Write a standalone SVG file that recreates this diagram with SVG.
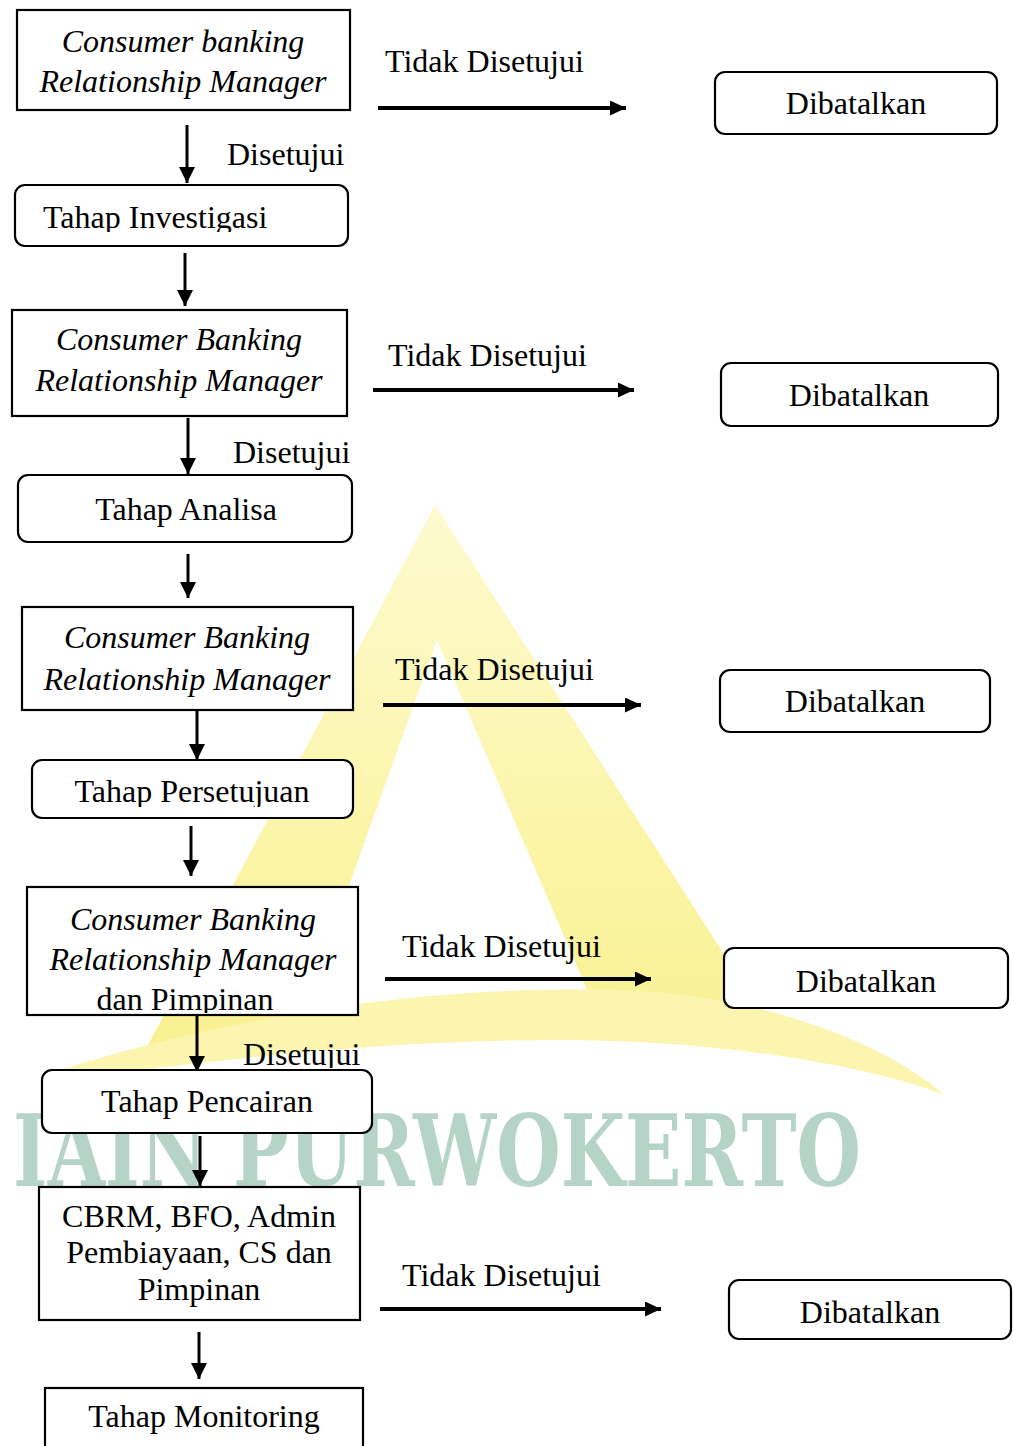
<svg xmlns="http://www.w3.org/2000/svg" width="1013" height="1446" viewBox="0 0 1013 1446">
<defs>
<style>
.box{fill:#fff;stroke:#000;stroke-width:2.2}
.t{font-family:"Liberation Serif","Times New Roman",serif;font-size:32px;fill:#000}
.c{text-anchor:middle}
.i{font-style:italic}
.v{stroke:#000;stroke-width:3;fill:none;marker-end:url(#ah)}
.h{stroke:#000;stroke-width:4;fill:none;marker-end:url(#ah2)}
</style>
<marker id="ah" markerUnits="userSpaceOnUse" markerWidth="16" markerHeight="16" refX="16" refY="8" orient="auto">
<path d="M0,0 L16,8 L0,16 Z" fill="#000"/>
</marker>
<marker id="ah2" markerUnits="userSpaceOnUse" markerWidth="16" markerHeight="16" refX="16" refY="7.5" orient="auto">
<path d="M0,0 L16,7.5 L0,15 Z" fill="#000"/>
</marker>
<clipPath id="cl1"><rect x="0" y="180" width="400" height="52"/></clipPath>
<clipPath id="cl2"><rect x="0" y="760" width="400" height="47"/></clipPath>
<clipPath id="cl3"><rect x="0" y="880" width="400" height="133"/></clipPath>
<clipPath id="cl4"><rect x="200" y="1030" width="200" height="38"/></clipPath>
<linearGradient id="yg" x1="0" y1="0" x2="0" y2="1">
<stop offset="0" stop-color="#fdfad0"/>
<stop offset="0.6" stop-color="#fbf5a8"/>
<stop offset="1" stop-color="#f9f090"/>
</linearGradient>
</defs>
<rect width="1013" height="1446" fill="#fff"/>
<g id="watermark">
<path d="M435,505 L140,1060 L290,1050 L437,640 L600,1020 L760,1010 Z" fill="url(#yg)"/>
<path d="M60,1070 C250,1010 450,985 620,990 C760,995 880,1040 945,1095 C850,1060 700,1040 560,1040 C380,1040 220,1060 60,1080 Z" fill="#fbf5b0"/>
<text x="13" y="1186" font-family="DejaVu Serif Condensed, DejaVu Serif, serif" font-weight="bold" font-size="100" textLength="848" lengthAdjust="spacingAndGlyphs" fill="#b6d3c8">IAIN PURWOKERTO</text>
</g>
<g id="connectors">
<line class="v" x1="187" y1="125" x2="187" y2="183"/>
<line class="v" x1="185" y1="253" x2="185" y2="306"/>
<line class="v" x1="188" y1="418" x2="188" y2="474"/>
<line class="v" x1="188" y1="554" x2="188" y2="598"/>
<line class="v" x1="197" y1="710" x2="197" y2="760"/>
<line class="v" x1="191" y1="826" x2="191" y2="876"/>
<line class="v" x1="197" y1="1015" x2="197" y2="1072"/>
<line class="v" x1="200" y1="1136" x2="200" y2="1186"/>
<line class="v" x1="199" y1="1332" x2="199" y2="1379"/>
<line class="h" x1="378" y1="108" x2="626" y2="108"/>
<line class="h" x1="373" y1="390" x2="634" y2="390"/>
<line class="h" x1="383" y1="705" x2="641" y2="705"/>
<line class="h" x1="385" y1="979" x2="651" y2="979"/>
<line class="h" x1="380" y1="1309" x2="661" y2="1309"/>
<text class="t" x="227" y="165">Disetujui</text>
<text class="t" x="233" y="463">Disetujui</text>
<g clip-path="url(#cl4)"><text class="t" x="243" y="1065">Disetujui</text></g>
<text class="t" x="385" y="72">Tidak Disetujui</text>
<text class="t" x="388" y="366">Tidak Disetujui</text>
<text class="t" x="395" y="680">Tidak Disetujui</text>
<text class="t" x="402" y="957">Tidak Disetujui</text>
<text class="t" x="402" y="1286">Tidak Disetujui</text>
</g>
<g id="n1"><rect class="box" x="17" y="10" width="333" height="100"/>
<text class="t c i" x="183" y="52">Consumer banking</text>
<text class="t c i" x="183" y="92">Relationship Manager</text></g>
<g id="n2"><rect class="box" x="15" y="185" width="333" height="61" rx="10"/>
<g clip-path="url(#cl1)"><text class="t" x="43" y="228">Tahap Investigasi</text></g></g>
<g id="n3"><rect class="box" x="12" y="310" width="335" height="106"/>
<text class="t c i" x="179" y="350">Consumer Banking</text>
<text class="t c i" x="179" y="391">Relationship Manager</text></g>
<g id="n4"><rect class="box" x="18" y="475" width="334" height="67" rx="10"/>
<text class="t c" x="186" y="520">Tahap Analisa</text></g>
<g id="n5"><rect class="box" x="22" y="607" width="331" height="103"/>
<text class="t c i" x="187" y="648">Consumer Banking</text>
<text class="t c i" x="187" y="690">Relationship Manager</text></g>
<g id="n6"><rect class="box" x="32" y="760" width="321" height="58" rx="10"/>
<g clip-path="url(#cl2)"><text class="t c" x="192" y="802">Tahap Persetujuan</text></g></g>
<g id="n7"><rect class="box" x="27" y="887" width="331" height="128"/>
<text class="t c i" x="193" y="930">Consumer Banking</text>
<text class="t c i" x="193" y="970">Relationship Manager</text>
<g clip-path="url(#cl3)"><text class="t c" x="185" y="1010">dan Pimpinan</text></g></g>
<g id="n8"><rect class="box" x="42" y="1070" width="330" height="63" rx="10"/>
<text class="t c" x="207" y="1112">Tahap Pencairan</text></g>
<g id="n9"><rect class="box" x="39" y="1187" width="321" height="133"/>
<text class="t c" x="199" y="1227">CBRM, BFO, Admin</text>
<text class="t c" x="199" y="1263">Pembiayaan, CS dan</text>
<text class="t c" x="199" y="1300">Pimpinan</text></g>
<g id="n10"><rect class="box" x="45" y="1388" width="318" height="80"/>
<text class="t c" x="204" y="1427">Tahap Monitoring</text></g>
<g id="d1"><rect class="box" x="715" y="72" width="282" height="62" rx="10"/>
<text class="t c" x="856" y="114">Dibatalkan</text></g>
<g id="d2"><rect class="box" x="721" y="363" width="277" height="63" rx="10"/>
<text class="t c" x="859" y="406">Dibatalkan</text></g>
<g id="d3"><rect class="box" x="720" y="670" width="270" height="62" rx="10"/>
<text class="t c" x="855" y="712">Dibatalkan</text></g>
<g id="d4"><rect class="box" x="724" y="948" width="284" height="60" rx="10"/>
<text class="t c" x="866" y="992">Dibatalkan</text></g>
<g id="d5"><rect class="box" x="729" y="1280" width="282" height="59" rx="10"/>
<text class="t c" x="870" y="1323">Dibatalkan</text></g>
</svg>
